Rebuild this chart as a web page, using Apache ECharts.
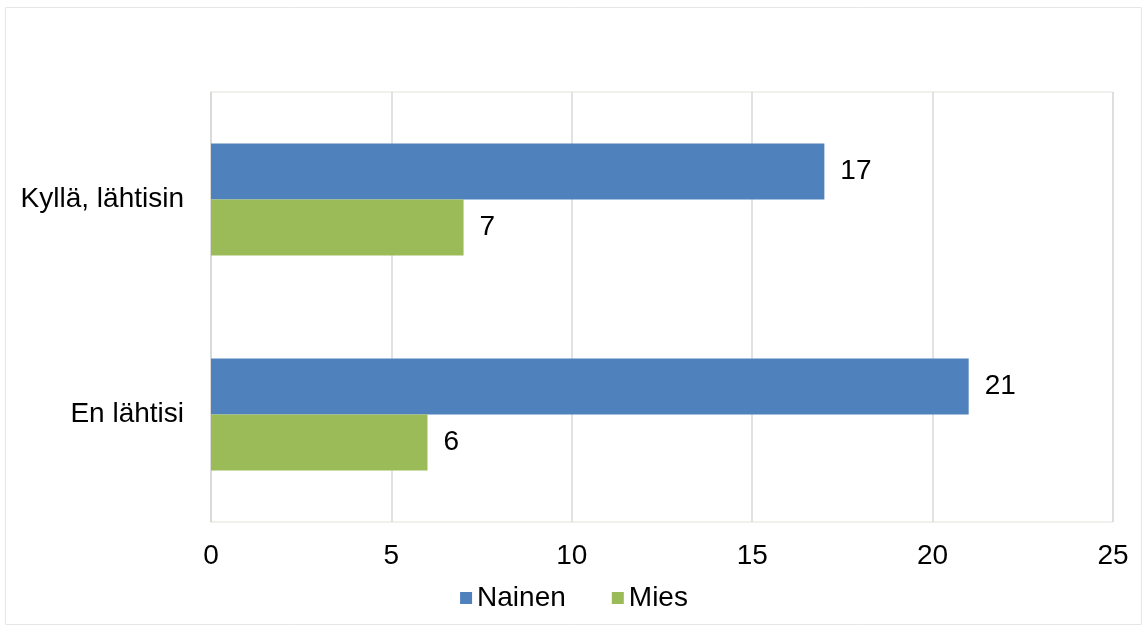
<!DOCTYPE html>
<html><head><meta charset="utf-8">
<script src="https://cdn.jsdelivr.net/npm/echarts@6/dist/echarts.min.js"></script>
<style>html,body{margin:0;padding:0;background:#fff}#c{width:1148px;height:632px}</style>
</head><body><div id="c"></div>
<script>
const categories = ["Kyllä, lähtisin", "En lähtisi"];
const nainen = [17, 21];
const mies = [7, 6];
const xTicks = [0, 5, 10, 15, 20, 25];

const font = "'Liberation Sans', Arial, sans-serif";
const FS = 28;
const chart = echarts.init(document.getElementById('c'));
const lbl = {show: true, position: 'right', distance: 16, color: '#000', fontSize: FS, fontFamily: font};
chart.setOption({
  animation: false,
  textStyle: {fontFamily: font},
  graphic: [{type: 'rect', shape: {x: 5.5, y: 7.5, width: 1136, height: 617}, style: {fill: 'none', stroke: '#e6e6e6', lineWidth: 1}, z: -1}],
  legend: {
    data: ['Nainen', 'Mies'], top: 579, left: 'center',
    itemWidth: 12, itemHeight: 12, itemGap: 46,
    textStyle: {fontSize: FS, color: '#000', fontFamily: font},
    icon: 'rect'
  },
  grid: {left: 211, right: 35, top: 92, bottom: 110, show: true, borderColor: '#e4e1da', borderWidth: 1},
  xAxis: {
    type: 'value', min: 0, max: 25, interval: 5,
    axisLine: {show: false}, axisTick: {show: false},
    splitLine: {lineStyle: {color: '#d9d9d9', width: 1.5}},
    axisLabel: {fontSize: FS, color: '#000', margin: 20, fontFamily: font,
      formatter: v => xTicks.includes(v) ? String(v) : ''}
  },
  yAxis: {
    type: 'category', data: categories, inverse: true,
    axisLine: {lineStyle: {color: '#d9d9d9', width: 1.5}}, axisTick: {show: false},
    axisLabel: {fontSize: FS, color: '#000', margin: 27, fontFamily: font}
  },
  series: [
    {name: 'Nainen', type: 'bar', data: nainen, barGap: '0%', barCategoryGap: '48%', itemStyle: {color: '#4f81bd'}, label: lbl},
    {name: 'Mies', type: 'bar', data: mies, barGap: '0%', barCategoryGap: '48%', itemStyle: {color: '#9bbb59'}, label: lbl}
  ]
});
</script></body></html>
